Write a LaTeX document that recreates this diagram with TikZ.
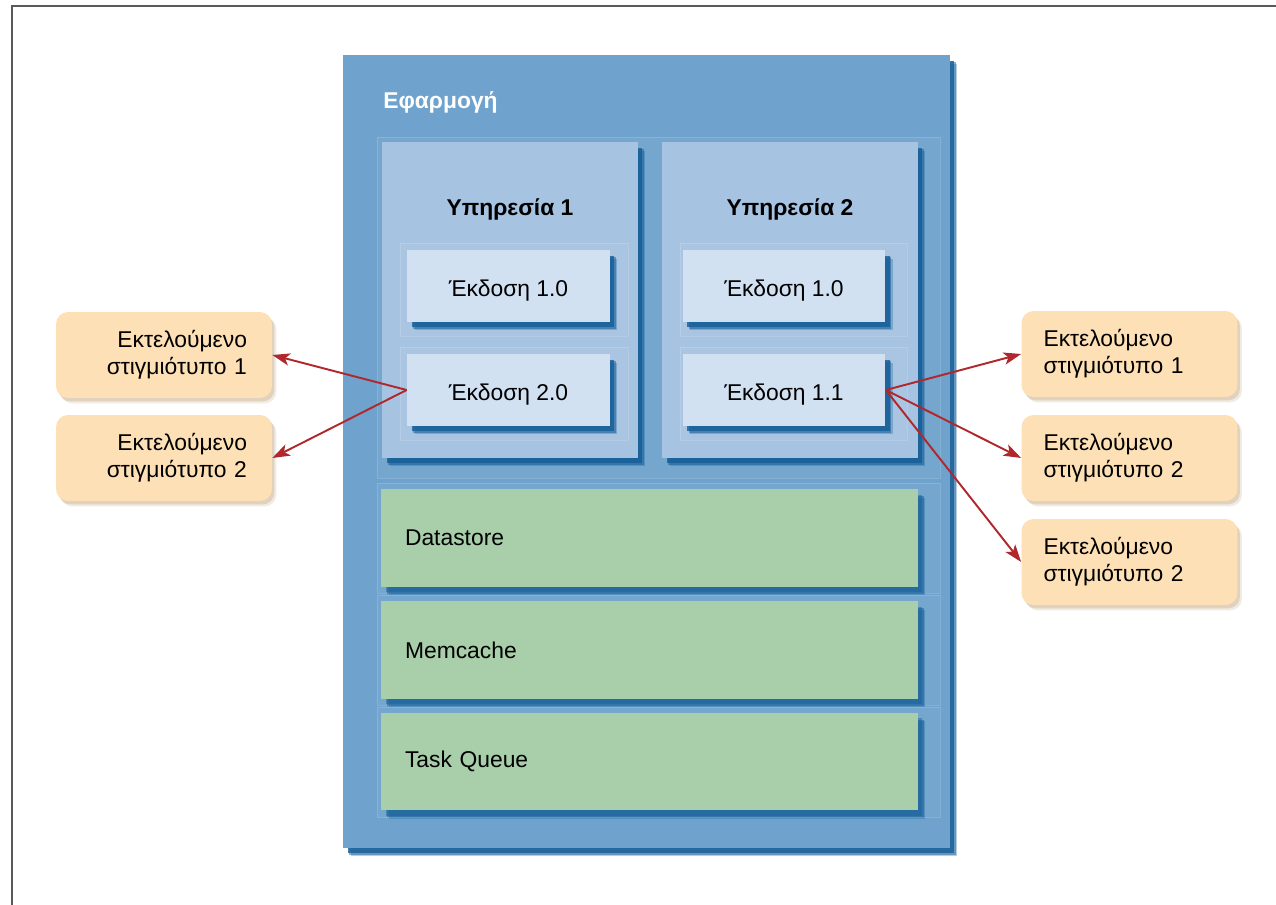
\documentclass[tikz,border=0pt]{standalone}
\usepackage{fontspec}
\setmainfont{Liberation Sans}
\usetikzlibrary{arrows.meta,shadows}
\definecolor{appblue}{HTML}{6FA3CD}
\definecolor{svcblue}{HTML}{A6C3E1}
\definecolor{verblue}{HTML}{D1E1F1}
\definecolor{shadeblue}{HTML}{155E98}
\definecolor{layergreen}{HTML}{A8CFA9}
\definecolor{runorange}{HTML}{FDE0B5}
\definecolor{runshade}{HTML}{B89A6E}
\definecolor{arrowred}{HTML}{B0282C}
\begin{document}
\begin{tikzpicture}[x=0.02cm,y=-0.02cm,
    every node/.style={font=\fontsize{13}{15.5}\selectfont, inner sep=0pt},
    % soft shadow made of three stacked offsets
    boxshadow/.style={
        drop shadow={fill=shadeblue, opacity=0.3, shadow xshift=0.15cm, shadow yshift=-0.17cm},
        drop shadow={fill=shadeblue, opacity=0.5, shadow xshift=0.12cm, shadow yshift=-0.14cm},
        drop shadow={fill=shadeblue, opacity=#1, shadow xshift=0.09cm, shadow yshift=-0.11cm}},
    boxshadow/.default=0.8,
    band/.style={draw=white, draw opacity=0.15, fill=white, fill opacity=0.04},
    appbox/.style={boxshadow, fill=appblue, minimum width=12.14cm, minimum height=15.86cm},
    svcbox/.style={boxshadow, fill=svcblue, minimum width=5.12cm, minimum height=6.32cm},
    verbox/.style={boxshadow, fill=verblue, minimum width=4.06cm, minimum height=1.44cm,
        text height=11.6pt, text depth=0pt},
    layerbox/.style={boxshadow=0.45, fill=layergreen,
        minimum width=10.74cm, minimum height=1.96cm,
        text width=9.78cm, align=left, inner xsep=0.48cm},
    runbox/.style={
        drop shadow={fill=runshade, opacity=0.2, shadow xshift=0.09cm, shadow yshift=-0.11cm},
        drop shadow={fill=runshade, opacity=0.3, shadow xshift=0.05cm, shadow yshift=-0.07cm},
        fill=runorange, rounded corners=0.24cm,
        minimum width=4.32cm, minimum height=1.72cm},
    runL/.style={runbox, text width=3.32cm, align=right, inner xsep=0.5cm},
    runR/.style={runbox, text width=3.44cm, align=left, inner xsep=0.44cm},
    link/.style={draw=arrowred, line width=1.1pt, -{Stealth[length=10pt,width=7pt,inset=2.5pt]}}]
  \useasboundingbox (0,0) rectangle (1276,905);
  \draw[black!65, line width=1.2pt] (12,905) -- (12,6) -- (1276,6);

  % application container
  \node[appbox] (app) at (646.5,451.5) {};
  \node[anchor=west, text=white, font=\fontsize{13}{15.5}\selectfont\bfseries] (apptitle) at (383,102) {Εφαρμογή};
  \node[band, minimum width=11.26cm, minimum height=6.82cm] (svcarea) at (658.5,307.5) {};

  % services
  \node[svcbox] (svcA) at (510,300) {};
  \node[svcbox] (svcB) at (790,300) {};
  \node[font=\fontsize{13}{15.5}\selectfont\bfseries] (svcAtitle) at (510,209) {Υπηρεσία 1};
  \node[font=\fontsize{13}{15.5}\selectfont\bfseries] (svcBtitle) at (790,209) {Υπηρεσία 2};
  \node[band, minimum width=4.56cm, minimum height=1.86cm] (bandA1) at (514,289.5) {};
  \node[band, minimum width=4.56cm, minimum height=1.86cm] (bandA2) at (514,393.5) {};
  \node[band, minimum width=4.54cm, minimum height=1.86cm] (bandB1) at (793.5,289.5) {};
  \node[band, minimum width=4.54cm, minimum height=1.86cm] (bandB2) at (793.5,393.5) {};
  \node[verbox] (verA1) at (508.5,286) {Έκδοση 1.0};
  \node[verbox] (verA2) at (508.5,390) {Έκδοση 2.0};
  \node[verbox] (verB1) at (784,286) {Έκδοση 1.0};
  \node[verbox] (verB2) at (784,390) {Έκδοση 1.1};

  % shared layers
  \node[band, minimum width=11.26cm, minimum height=2.2cm] (bandS) at (658.5,538) {};
  \node[band, minimum width=11.26cm, minimum height=2.2cm] (bandM) at (658.5,650) {};
  \node[band, minimum width=11.26cm, minimum height=2.2cm] (bandQ) at (658.5,762) {};
  \node[layerbox] (store) at (649.5,538) {Datastore};
  \node[layerbox] (cache) at (649.5,650) {Memcache};
  \node[layerbox] (queue) at (649.5,761.5) {Task Queue};

  % running instances
  \node[runL] (runLa) at (164,355) {Εκτελούμενο\\στιγμιότυπο 1};
  \node[runL] (runLb) at (164,458) {Εκτελούμενο\\στιγμιότυπο 2};
  \node[runR] (runRa) at (1129.5,354) {Εκτελούμενο\\στιγμιότυπο 1};
  \node[runR] (runRb) at (1129.5,458) {Εκτελούμενο\\στιγμιότυπο 2};
  \node[runR] (runRc) at (1129.5,562) {Εκτελούμενο\\στιγμιότυπο 2};

  \draw[link] (verA2.west) -- (runLa.east);
  \draw[link] (verA2.west) -- (runLb.east);
  \draw[link] (verB2.east) -- (runRa.west);
  \draw[link] (verB2.east) -- (runRb.west);
  \draw[link] (verB2.east) -- (runRc.west);
\end{tikzpicture}
\end{document}
